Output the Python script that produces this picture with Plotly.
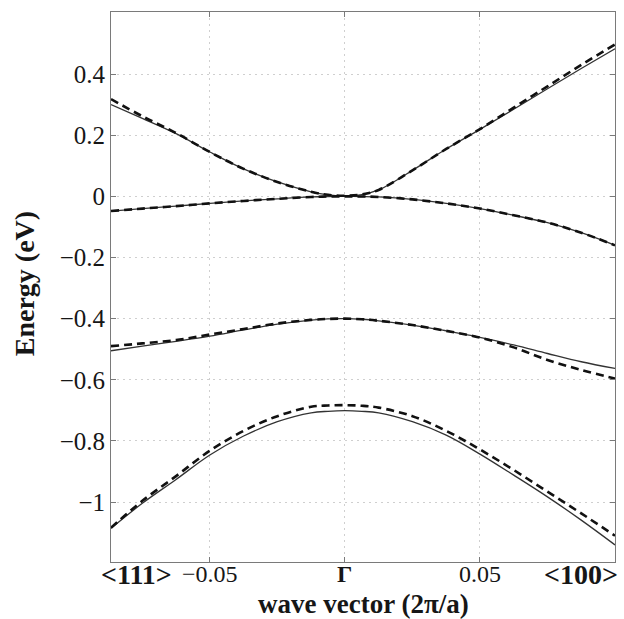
import plotly.graph_objects as go

# wave vector sample points (2pi/a); left edge is <111>, right edge <100>
k = [-0.0866, -0.075, -0.0625, -0.05, -0.0375, -0.025, -0.0125, -0.00625, 0.0,
     0.00625, 0.0125, 0.025, 0.0375, 0.05, 0.0625, 0.075, 0.0875, 0.1]

# solid curves
band1_solid = [0.300, 0.255, 0.205, 0.145, 0.090, 0.047, 0.015, 0.005, 0.002,
               0.006, 0.021, 0.085, 0.155, 0.219, 0.285, 0.352, 0.418, 0.483]
band2_solid = [-0.048, -0.040, -0.032, -0.023, -0.015, -0.008, -0.002, -0.0005, 0.0,
               -0.0005, -0.002, -0.010, -0.023, -0.040, -0.062, -0.086, -0.119, -0.160]
band3_solid = [-0.505, -0.490, -0.474, -0.457, -0.437, -0.418, -0.405, -0.401, -0.400,
               -0.402, -0.407, -0.421, -0.440, -0.461, -0.486, -0.514, -0.541, -0.563]
band4_solid = [-1.086, -1.004, -0.926, -0.846, -0.784, -0.737, -0.708, -0.703, -0.701,
               -0.703, -0.708, -0.737, -0.781, -0.843, -0.912, -0.983, -1.059, -1.140]

# dashed curves
band1_dash = [0.318, 0.262, 0.207, 0.145, 0.090, 0.047, 0.015, 0.005, 0.002,
              0.006, 0.021, 0.085, 0.155, 0.220, 0.290, 0.360, 0.430, 0.497]
band2_dash = band2_solid[:]
band3_dash = [-0.490, -0.481, -0.470, -0.452, -0.434, -0.416, -0.404, -0.401, -0.400,
              -0.402, -0.407, -0.421, -0.440, -0.462, -0.494, -0.535, -0.568, -0.596]
band4_dash = [-1.084, -0.996, -0.915, -0.832, -0.767, -0.719, -0.688, -0.684, -0.683,
              -0.685, -0.691, -0.719, -0.767, -0.828, -0.895, -0.966, -1.037, -1.110]

y_ticks = [0.4, 0.2, 0, -0.2, -0.4, -0.6, -0.8, -1]
y_ticktext = ["0.4", "0.2", "0", "\u22120.2", "\u22120.4", "\u22120.6", "\u22120.8", "\u22121"]
x_ticks = [-0.05, 0, 0.05]
x_ticktext = ["\u22120.05", "<b>\u0393</b>", "0.05"]
# direction labels and where they sit along the wave-vector axis
dir_labels = ["<b>&lt;111&gt;</b>", "<b>&lt;100&gt;</b>"]
dir_pos = [-0.077, 0.0874]

FONT = "Liberation Serif"
TXT = "#161616"

fig = go.Figure()
for ys in [band1_solid, band2_solid, band3_solid, band4_solid]:
    fig.add_trace(go.Scatter(x=k, y=ys, mode="lines",
                             line=dict(color="#333333", width=1.3, shape="spline", smoothing=1.0),
                             showlegend=False, hoverinfo="skip"))
for ys in [band1_dash, band2_dash, band3_dash, band4_dash]:
    fig.add_trace(go.Scatter(x=k, y=ys, mode="lines",
                             line=dict(color="#111111", width=2.6, dash="8px,5px",
                                       shape="spline", smoothing=1.0),
                             showlegend=False, hoverinfo="skip"))

axis_common = dict(showline=True, linecolor="#7a7a7a", linewidth=1, mirror="ticks",
                   ticks="inside", ticklen=5, tickcolor="#7a7a7a",
                   showgrid=True, gridcolor="#cfcfcf", griddash="2px,4px", gridwidth=1,
                   zeroline=False)

fig.update_xaxes(range=[-0.0866, 0.1], tickmode="array", tickvals=x_ticks, ticktext=x_ticktext,
                 showticklabels=False, **axis_common)
fig.update_yaxes(range=[-1.196, 0.603], tickmode="array", tickvals=y_ticks, ticktext=y_ticktext,
                 tickfont=dict(family=FONT, size=25, color=TXT), **axis_common)

annotations = []
# x tick labels (placed just under the axis, as in the reference)
for xv, tt in zip(x_ticks, x_ticktext):
    annotations.append(dict(text=tt, x=xv, y=-0.0225, xref="x", yref="paper",
                            xanchor="center", yanchor="middle", showarrow=False,
                            font=dict(family=FONT, size=24, color=TXT)))
for xv, tt in zip(dir_pos, dir_labels):
    annotations.append(dict(text=tt, x=xv, y=-0.0225, xref="x", yref="paper",
                            xanchor="center", yanchor="middle", showarrow=False,
                            font=dict(family=FONT, size=28, color=TXT)))
annotations += [
    dict(text="<b>wave vector (2\u03c0/a)</b>", x=0.0067, y=-0.0755, xref="x", yref="paper",
         xanchor="center", yanchor="middle", showarrow=False,
         font=dict(family=FONT, size=27, color=TXT)),
    dict(text="<b>Energy (eV)</b>", x=-0.170, y=0.5055, xref="paper", yref="paper",
         xanchor="center", yanchor="middle", showarrow=False, textangle=-90,
         font=dict(family=FONT, size=28, color=TXT)),
]

fig.update_layout(width=624, height=619, margin=dict(l=111, r=9, t=12, b=57),
                  font=dict(family=FONT, size=25, color=TXT),
                  paper_bgcolor="white", plot_bgcolor="white", annotations=annotations)

fig.write_html("out.html")
